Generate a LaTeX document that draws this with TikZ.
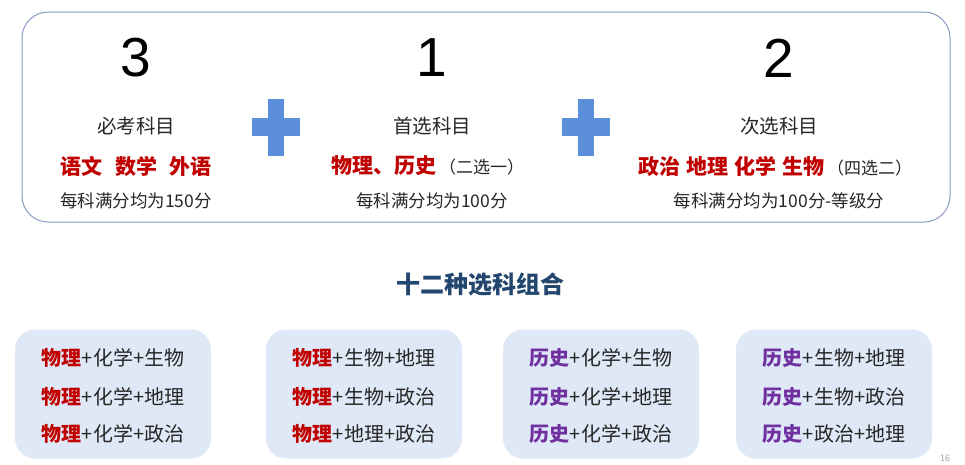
\documentclass[tikz,border=0pt]{standalone}
\usepackage{fontspec}
\setmainfont{Noto Sans CJK SC}
\newfontfamily\digitfont{Liberation Sans}
\usepackage{xcolor}
\usetikzlibrary{positioning}
\definecolor{frameblue}{HTML}{8A9CC4}
\definecolor{plusblue}{HTML}{5B8FDB}
\definecolor{deepred}{HTML}{C00000}
\definecolor{deeppurple}{HTML}{7030A0}
\definecolor{titleblue}{HTML}{22466E}
\definecolor{boxfill}{HTML}{DFE8F6}
\definecolor{inkgray}{HTML}{262626}
\tikzset{
  bignum/.style={font=\digitfont\fontsize{55}{60}\selectfont},
  subjlab/.style={font=\fontsize{19.5}{22}\selectfont,text=inkgray},
  redlab/.style={font=\bfseries\fontsize{21}{24}\selectfont,text=deepred},
  notelab/.style={font=\fontsize{17.5}{20}\selectfont,text=inkgray},
  plusbar/.style={fill=plusblue},
  combobox/.style={fill=boxfill,rounded corners=20pt,minimum width=196pt,minimum height=129pt},
  combolab/.style={font=\fontsize{20}{22}\selectfont,text=inkgray},
  pagelab/.style={font=\fontsize{9}{10}\selectfont,text=black!35},
}

\begin{document}
\begin{tikzpicture}[x=1pt,y=-1pt]
        \useasboundingbox[fill=white] (0,0) rectangle (965,464);
        % upper frame
        \draw[frameblue,line width=1pt,rounded corners=26pt] (22,12) rectangle (950,222);
        \foreach \x/\n/\s [count=\i] in {136/3/必考科目,432/1/首选科目,779/2/次选科目}{%
          \node[bignum] (num\i) at (\x,58) {\n};
          \node[subjlab] (subj\i) at (\x,126) {\s};}
        \node[redlab] (red1) at (136,166) {语文\hspace{0.6em}数学\hspace{0.6em}外语};
        \node[redlab] (red2) at (428,166) {物理、历史\hspace{0.1em}{\mdseries\fontsize{17}{20}\selectfont\color{inkgray}（二选一）}};
        \node[redlab] (red3) at (775,166) {政治\hspace{0.3em}地理\hspace{0.3em}化学\hspace{0.3em}生物\hspace{0.1em}{\mdseries\fontsize{17}{20}\selectfont\color{inkgray}（四选二）}};
        \node[notelab] (note1) at (136,201) {每科满分均为150分};
        \node[notelab] (note2) at (432,201) {每科满分均为100分};
        \node[notelab] (note3) at (779,201) {每科满分均为100分-等级分};
        % plus signs
        \foreach \x in {276,586}{%
          \fill[plusbar] (\x-8,99) rectangle (\x+8,156);
          \fill[plusbar] (\x-24,118) rectangle (\x+24,136);}
        % combinations
        \node[font=\bfseries\fontsize{24}{28}\selectfont,text=titleblue] (title) at (480,284) {十二种选科组合};
        \foreach \bx/\lead/\lc/\ta/\tb/\tc [count=\i] in {%
            113/物理/deepred/化学+生物/化学+地理/化学+政治,
            364/物理/deepred/生物+地理/生物+政治/地理+政治,
            601/历史/deeppurple/化学+生物/化学+地理/化学+政治,
            834/历史/deeppurple/生物+地理/生物+政治/政治+地理}{%
          \node[combobox] (combo\i) at (\bx,394) {};
          \node[combolab] (combo\i a) at (\bx,358) {{\bfseries\color{\lc}\lead}+\ta};
          \node[combolab] (combo\i b) at (\bx,397) {{\bfseries\color{\lc}\lead}+\tb};
          \node[combolab] (combo\i c) at (\bx,434) {{\bfseries\color{\lc}\lead}+\tc};}
        \node[pagelab] (page) at (945,458) {16};
      \end{tikzpicture}
\end{document}
